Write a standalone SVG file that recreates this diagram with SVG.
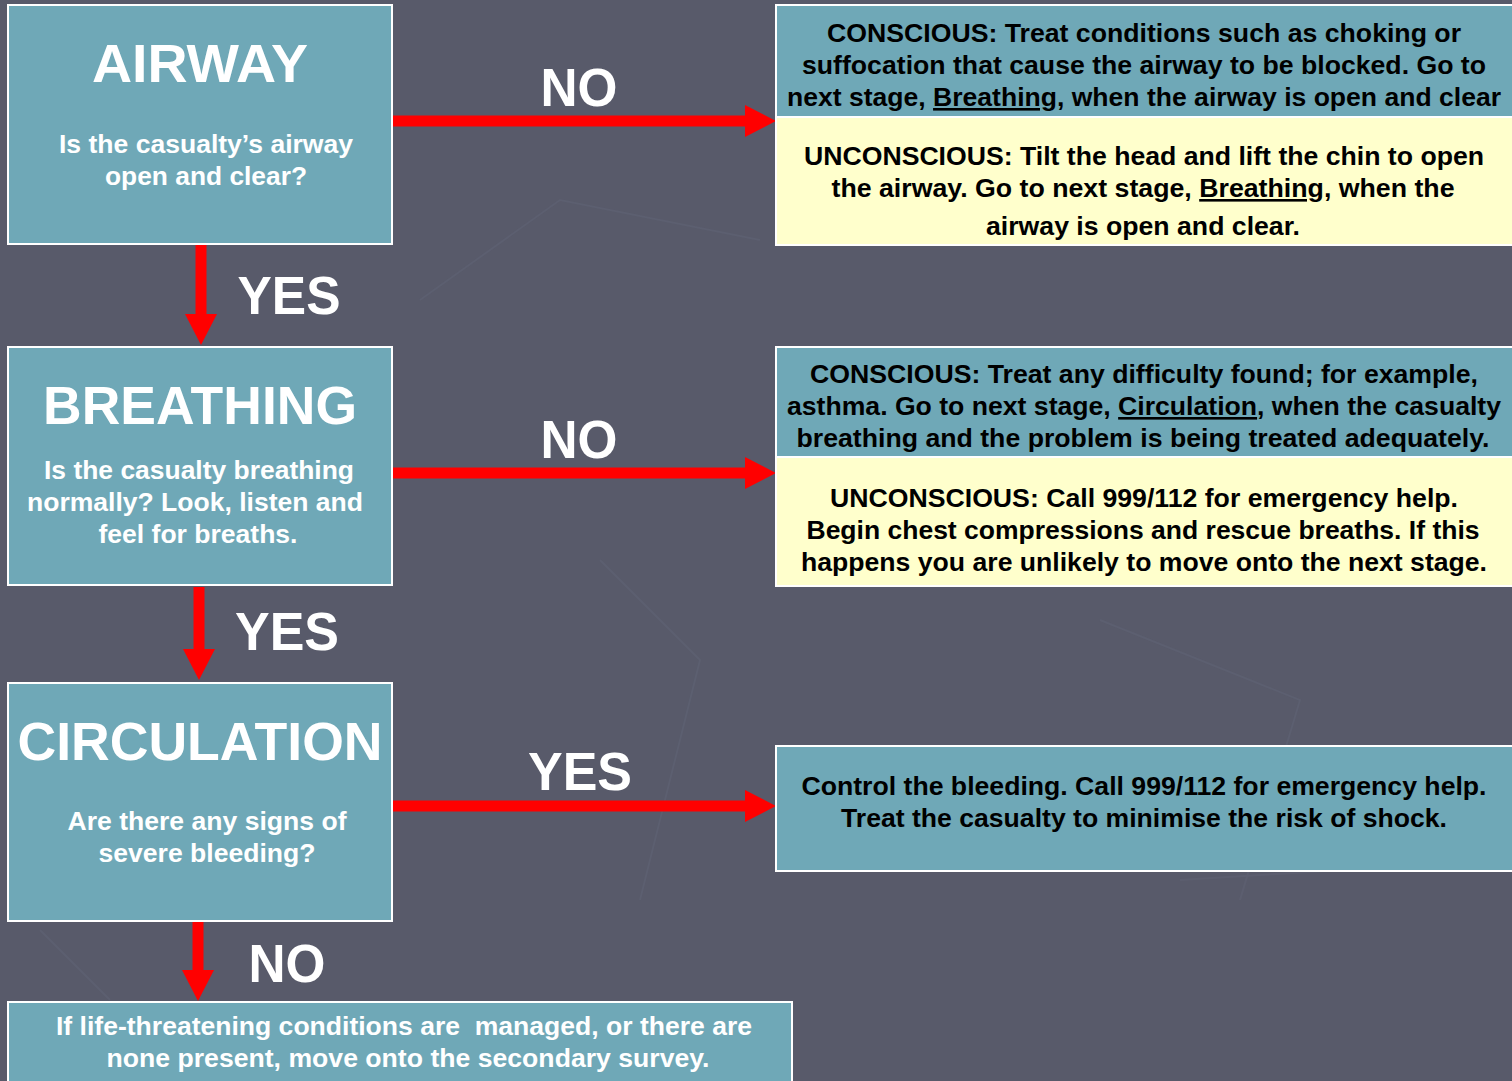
<svg xmlns="http://www.w3.org/2000/svg" width="1512" height="1081" viewBox="0 0 1512 1081">
<defs>
<style>
.bg{fill:#585a6a}
.box{fill:#6fa8b7;stroke:#ffffff;stroke-width:2}
.ybox{fill:#ffffcc;stroke:#ffffff;stroke-width:2}
.title{font-family:"Liberation Sans",Arial,sans-serif;font-weight:bold;font-size:54px;fill:#ffffff;text-anchor:middle}
.sub{font-family:"Liberation Sans",Arial,sans-serif;font-weight:bold;font-size:26px;fill:#ffffff;text-anchor:middle}
.info{font-family:"Liberation Sans",Arial,sans-serif;font-weight:bold;font-size:26px;fill:#000000;text-anchor:middle}
.lbl{font-family:"Liberation Sans",Arial,sans-serif;font-weight:bold;font-size:54px;fill:#ffffff;text-anchor:middle}
.conn{stroke:#ff0000;stroke-width:11;fill:none}
</style>
<marker id="ah" markerUnits="userSpaceOnUse" markerWidth="31" markerHeight="32" refX="0" refY="16" orient="auto" viewBox="0 0 31 32">
<path d="M0,0 L31,16 L0,32 Z" fill="#ff0000"/>
</marker>
</defs>
<rect class="bg" x="0" y="0" width="1512" height="1081"/>
<g id="background-lines" stroke="#606375" stroke-width="2" fill="none" opacity="0.5">
<path d="M420,300 L560,200 L760,240"/>
<path d="M600,560 L700,660 L640,900"/>
<path d="M1100,620 L1300,700 L1240,900"/>
<path d="M1180,880 L1500,860"/>
<path d="M40,930 L110,1000"/>
</g>

<g id="connectors">
<line class="conn" x1="392" y1="121" x2="745" y2="121" marker-end="url(#ah)"/>
<line class="conn" x1="201" y1="245" x2="201" y2="314" marker-end="url(#ah)"/>
<line class="conn" x1="392" y1="473" x2="745" y2="473" marker-end="url(#ah)"/>
<line class="conn" x1="199" y1="587" x2="199" y2="649" marker-end="url(#ah)"/>
<line class="conn" x1="392" y1="806" x2="745" y2="806" marker-end="url(#ah)"/>
<line class="conn" x1="198" y1="922" x2="198" y2="970" marker-end="url(#ah)"/>
<text class="lbl" x="579" y="106" textLength="77" lengthAdjust="spacingAndGlyphs">NO</text>
<text class="lbl" x="289" y="314" textLength="103" lengthAdjust="spacingAndGlyphs">YES</text>
<text class="lbl" x="579" y="458" textLength="77" lengthAdjust="spacingAndGlyphs">NO</text>
<text class="lbl" x="287" y="650" textLength="104" lengthAdjust="spacingAndGlyphs">YES</text>
<text class="lbl" x="580" y="790" textLength="104" lengthAdjust="spacingAndGlyphs">YES</text>
<text class="lbl" x="287" y="982" textLength="77" lengthAdjust="spacingAndGlyphs">NO</text>
</g>

<g id="airway">
<rect class="box" x="8" y="5" width="384" height="239"/>
<text class="title" x="200" y="82" textLength="216" lengthAdjust="spacingAndGlyphs">AIRWAY</text>
<text class="sub" x="206" y="153" textLength="294" lengthAdjust="spacingAndGlyphs">Is the casualty’s airway</text>
<text class="sub" x="206" y="185" textLength="202" lengthAdjust="spacingAndGlyphs">open and clear?</text>
</g>

<g id="breathing">
<rect class="box" x="8" y="347" width="384" height="238"/>
<text class="title" x="200" y="424" textLength="314" lengthAdjust="spacingAndGlyphs">BREATHING</text>
<text class="sub" x="199" y="479" textLength="310" lengthAdjust="spacingAndGlyphs">Is the casualty breathing</text>
<text class="sub" x="195" y="511" textLength="336" lengthAdjust="spacingAndGlyphs">normally? Look, listen and</text>
<text class="sub" x="198" y="543" textLength="199" lengthAdjust="spacingAndGlyphs">feel for breaths.</text>
</g>

<g id="circulation">
<rect class="box" x="8" y="683" width="384" height="238"/>
<text class="title" x="200" y="760" textLength="365" lengthAdjust="spacingAndGlyphs">CIRCULATION</text>
<text class="sub" x="207" y="830" textLength="279" lengthAdjust="spacingAndGlyphs">Are there any signs of</text>
<text class="sub" x="207" y="862" textLength="217" lengthAdjust="spacingAndGlyphs">severe bleeding?</text>
</g>

<g id="airway-no">
<rect class="box" x="776" y="5" width="738" height="112"/>
<rect class="ybox" x="776" y="117" width="738" height="128"/>
<text class="info" x="1144" y="42" textLength="634" lengthAdjust="spacingAndGlyphs">CONSCIOUS: Treat conditions such as choking or</text>
<text class="info" x="1144" y="74" textLength="684" lengthAdjust="spacingAndGlyphs">suffocation that cause the airway to be blocked. Go to</text>
<text class="info" x="1144" y="106" textLength="714" lengthAdjust="spacingAndGlyphs">next stage, <tspan text-decoration="underline">Breathing</tspan>, when the airway is open and clear</text>
<text class="info" x="1144" y="165" textLength="680" lengthAdjust="spacingAndGlyphs">UNCONSCIOUS: Tilt the head and lift the chin to open</text>
<text class="info" x="1143" y="197" textLength="623" lengthAdjust="spacingAndGlyphs">the airway. Go to next stage, <tspan text-decoration="underline">Breathing</tspan>, when the</text>
<text class="info" x="1143" y="235" textLength="314" lengthAdjust="spacingAndGlyphs">airway is open and clear.</text>
</g>

<g id="breathing-no">
<rect class="box" x="776" y="347" width="738" height="110"/>
<rect class="ybox" x="776" y="457" width="738" height="129"/>
<text class="info" x="1144" y="383" textLength="668" lengthAdjust="spacingAndGlyphs">CONSCIOUS: Treat any difficulty found; for example,</text>
<text class="info" x="1144" y="415" textLength="714" lengthAdjust="spacingAndGlyphs">asthma. Go to next stage, <tspan text-decoration="underline">Circulation</tspan>, when the casualty</text>
<text class="info" x="1143" y="447" textLength="693" lengthAdjust="spacingAndGlyphs">breathing and the problem is being treated adequately.</text>
<text class="info" x="1144" y="507" textLength="628" lengthAdjust="spacingAndGlyphs">UNCONSCIOUS: Call 999/112 for emergency help.</text>
<text class="info" x="1143" y="539" textLength="673" lengthAdjust="spacingAndGlyphs">Begin chest compressions and rescue breaths. If this</text>
<text class="info" x="1144" y="571" textLength="686" lengthAdjust="spacingAndGlyphs">happens you are unlikely to move onto the next stage.</text>
</g>

<g id="circulation-yes">
<rect class="box" x="776" y="746" width="738" height="125"/>
<text class="info" x="1144" y="795" textLength="685" lengthAdjust="spacingAndGlyphs">Control the bleeding. Call 999/112 for emergency help.</text>
<text class="info" x="1144" y="827" textLength="606" lengthAdjust="spacingAndGlyphs">Treat the casualty to minimise the risk of shock.</text>
</g>

<g id="secondary-survey">
<rect class="box" x="8" y="1002" width="784" height="90"/>
<text class="sub" x="404" y="1035" textLength="696" lengthAdjust="spacingAndGlyphs" xml:space="preserve">If life-threatening conditions are  managed, or there are</text>
<text class="sub" x="408" y="1067" textLength="603" lengthAdjust="spacingAndGlyphs">none present, move onto the secondary survey.</text>
</g>
</svg>
